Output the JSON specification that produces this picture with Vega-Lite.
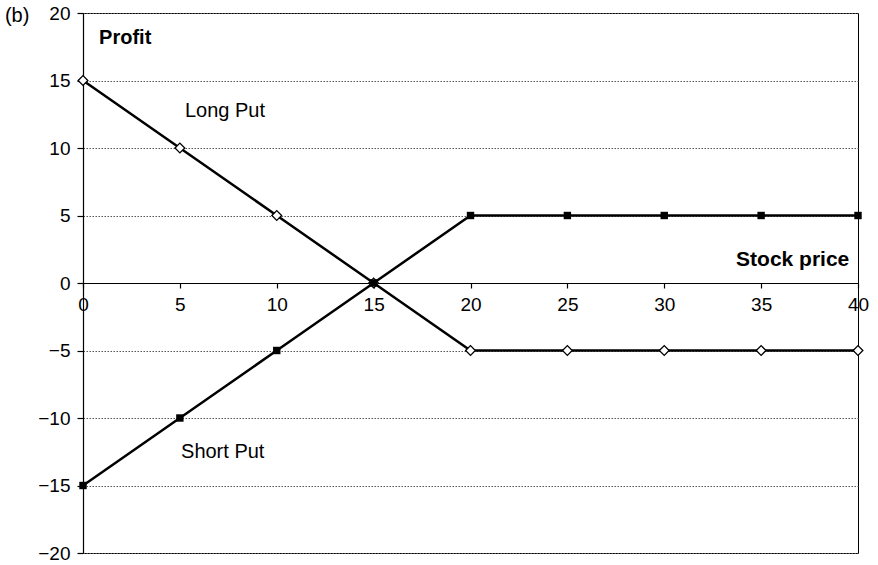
{
  "$schema": "https://vega.github.io/schema/vega-lite/v6.json",
  "width": 775,
  "height": 540,
  "autosize": {"type": "none"},
  "padding": {"left": 83, "top": 13, "right": 20, "bottom": 12},
  "background": "white",
  "config": {
    "view": {"stroke": "black", "strokeWidth": 1},
    "font": "Liberation Sans"
  },
  "datasets": {
    "series": [
      {"series": "Long Put", "price": 0, "profit": 15},
      {"series": "Long Put", "price": 5, "profit": 10},
      {"series": "Long Put", "price": 10, "profit": 5},
      {"series": "Long Put", "price": 15, "profit": 0},
      {"series": "Long Put", "price": 20, "profit": -5},
      {"series": "Long Put", "price": 25, "profit": -5},
      {"series": "Long Put", "price": 30, "profit": -5},
      {"series": "Long Put", "price": 35, "profit": -5},
      {"series": "Long Put", "price": 40, "profit": -5},
      {"series": "Short Put", "price": 0, "profit": -15},
      {"series": "Short Put", "price": 5, "profit": -10},
      {"series": "Short Put", "price": 10, "profit": -5},
      {"series": "Short Put", "price": 15, "profit": 0},
      {"series": "Short Put", "price": 20, "profit": 5},
      {"series": "Short Put", "price": 25, "profit": 5},
      {"series": "Short Put", "price": 30, "profit": 5},
      {"series": "Short Put", "price": 35, "profit": 5},
      {"series": "Short Put", "price": 40, "profit": 5}
    ],
    "normalLabels": [
      {"price": 5.26, "profit": 12.3, "text": "Long Put"},
      {"price": 5.06, "profit": -12.96, "text": "Short Put"}
    ],
    "boldLeft": [
      {"price": 0.83, "profit": 17.74, "text": "Profit"}
    ],
    "boldRight": [
      {"price": 39.55, "profit": 1.26, "text": "Stock price"}
    ],
    "panel": [
      {"price": -4.03, "profit": 19.3, "text": "(b)"}
    ]
  },
  "layer": [
    {
      "data": {"name": "series"},
      "mark": {"type": "line", "color": "black", "strokeWidth": 2.5},
      "encoding": {
        "x": {
          "field": "price",
          "type": "quantitative",
          "scale": {"domain": [0, 40], "nice": false, "zero": false},
          "axis": {
            "title": null,
            "orient": "bottom",
            "offset": -270,
            "values": [0, 5, 10, 15, 20, 25, 30, 35, 40],
            "grid": false,
            "domainColor": "black",
            "domainWidth": 1.2,
            "tickColor": "black",
            "tickWidth": 1.2,
            "tickSize": 5,
            "labelFontSize": 19,
            "labelColor": "black",
            "labelPadding": 7,
            "labelFlush": false,
            "labelBound": false,
            "labelOverlap": false
          }
        },
        "y": {
          "field": "profit",
          "type": "quantitative",
          "scale": {"domain": [-20, 20], "nice": false, "zero": false},
          "axis": {
            "title": null,
            "values": [-20, -15, -10, -5, 0, 5, 10, 15, 20],
            "grid": true,
            "gridColor": "#555",
            "gridDash": [1.5, 1.5],
            "gridWidth": 1,
            "domainColor": "black",
            "domainWidth": 1.2,
            "tickColor": "black",
            "tickWidth": 1.2,
            "tickSize": 6,
            "labelFontSize": 19,
            "labelColor": "black",
            "labelPadding": 7,
            "labelFlush": false,
            "labelBound": false,
            "labelOverlap": false
          }
        },
        "detail": {"field": "series", "type": "nominal"}
      }
    },
    {
      "data": {"name": "series"},
      "transform": [{"filter": "datum.series === 'Long Put'"}],
      "mark": {"type": "point", "shape": "diamond", "filled": true, "fill": "white", "stroke": "black", "strokeWidth": 1.3, "size": 95, "opacity": 1},
      "encoding": {
        "x": {"field": "price", "type": "quantitative"},
        "y": {"field": "profit", "type": "quantitative"}
      }
    },
    {
      "data": {"name": "series"},
      "transform": [{"filter": "datum.series === 'Short Put'"}],
      "mark": {"type": "point", "shape": "square", "filled": true, "fill": "black", "stroke": "black", "strokeWidth": 0, "size": 55, "opacity": 1},
      "encoding": {
        "x": {"field": "price", "type": "quantitative"},
        "y": {"field": "profit", "type": "quantitative"}
      }
    },
    {
      "data": {"name": "normalLabels"},
      "mark": {"type": "text", "align": "left", "baseline": "alphabetic", "fontSize": 20, "color": "black"},
      "encoding": {
        "x": {"field": "price", "type": "quantitative"},
        "y": {"field": "profit", "type": "quantitative"},
        "text": {"field": "text"}
      }
    },
    {
      "data": {"name": "boldLeft"},
      "mark": {"type": "text", "align": "left", "baseline": "alphabetic", "fontSize": 20, "fontWeight": "bold", "color": "black"},
      "encoding": {
        "x": {"field": "price", "type": "quantitative"},
        "y": {"field": "profit", "type": "quantitative"},
        "text": {"field": "text"}
      }
    },
    {
      "data": {"name": "boldRight"},
      "mark": {"type": "text", "align": "right", "baseline": "alphabetic", "fontSize": 21, "fontWeight": "bold", "color": "black"},
      "encoding": {
        "x": {"field": "price", "type": "quantitative"},
        "y": {"field": "profit", "type": "quantitative"},
        "text": {"field": "text"}
      }
    },
    {
      "data": {"name": "panel"},
      "mark": {"type": "text", "align": "left", "baseline": "alphabetic", "fontSize": 20, "color": "black"},
      "encoding": {
        "x": {"field": "price", "type": "quantitative"},
        "y": {"field": "profit", "type": "quantitative"},
        "text": {"field": "text"}
      }
    }
  ]
}
